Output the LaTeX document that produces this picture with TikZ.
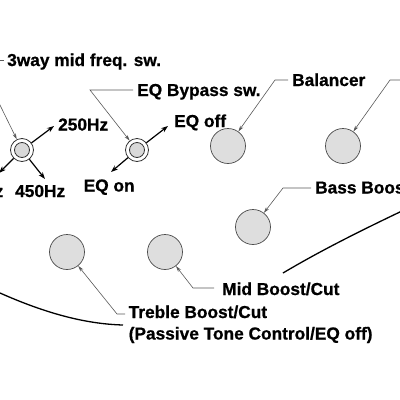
\documentclass[tikz,border=0pt]{standalone}
\usepackage{fontspec}
\setmainfont{Liberation Sans}[BoldFeatures={FakeBold=0.8}]
\usetikzlibrary{arrows.meta}
\begin{document}
\begin{tikzpicture}[x=1pt,y=-1pt,
  lbl/.style={font=\fontsize{17.3}{21.6}\selectfont\bfseries, inner sep=0pt, anchor=base west, text=black},
  knob/.style={circle, draw=black!70, fill=black!13, line width=0.7pt, minimum size=35pt, inner sep=0pt},
  swouter/.style={circle, draw=black!80, line width=0.8pt, minimum size=23pt, inner sep=0pt, fill=white},
  swinner/.style={circle, draw=black!80, fill=black!15, line width=0.8pt, minimum size=15pt, inner sep=0pt},
  lead/.style={draw=black!65, line width=0.6pt, -{Stealth[length=6pt,width=3.5pt]}},
  plainlead/.style={draw=black!65, line width=0.6pt},
  swarrow/.style={line width=1.2pt, -{Stealth[length=7pt,width=5pt]}},
  body/.style={line width=1.3pt}]
\useasboundingbox (0,0) rectangle (400,400);
\clip (0,0) rectangle (400,400);

% body outline
\draw[body] (0,293) .. controls (45,313) and (85,324) .. (123,325);
\draw[body] (283,273) .. controls (320,251) and (360,231) .. (402,211);

% knobs
\node[knob] (bal) at (228,146) {};
\node[knob] (kr) at (343,146) {};
\node[knob] (bass) at (253,227) {};
\node[knob] (treb) at (67,252) {};
\node[knob] (mid) at (165,252) {};

% switches
\node[swouter] (sw1) at (22,150) {};
\node[swinner] (sw1i) at (22,150) {};
\node[swouter] (sw2) at (137,150) {};
\node[swinner] (sw2i) at (137,150) {};

% switch arrows
\coordinate (a250) at (54,126);
\coordinate (a450) at (45,179);
\coordinate (aleft) at (-1,173);
\coordinate (aoff) at (168,126);
\coordinate (aon) at (111,172);
\draw[swarrow] (sw1) -- (a250);
\draw[swarrow] (sw1) -- (a450);
\draw[swarrow] (sw1) -- (aleft);
\draw[swarrow] (sw2) -- (aoff);
\draw[swarrow] (sw2) -- (aon);

% labels
\node[lbl] (t3way) at (7,66) {3way mid freq. sw.};
\node[lbl] (teqb) at (137,96) {EQ Bypass sw.};
\node[lbl] (tbal) at (292,86) {Balancer};
\node[lbl] (t250) at (58,130.5) {250Hz};
\node[lbl] (t450) at (15,197) {450Hz};
\node[lbl, anchor=base east] (thz) at (3.5,197) {Hz};
\node[lbl] (toff) at (174,127) {EQ off};
\node[lbl] (ton) at (83.5,191.5) {EQ on};
\node[lbl] (tbass) at (315,193.5) {Bass Boost};
\node[lbl] (tmid) at (222,295) {Mid Boost/Cut};
\node[lbl] (ttreb) at (128.5,318) {Treble Boost/Cut};
\node[lbl] (ttreb2) at (128.5,339.5) {(Passive Tone Control/EQ off)};

% leaders
\coordinate (l0a) at (-1,60);
\coordinate (l0b) at (4,60);
\draw[plainlead] (l0a) -- (l0b);

\coordinate (l1) at (-1,103);
\draw[lead] (l1) -- (sw1);

\coordinate (l2a) at (133,90);
\coordinate (l2b) at (90,90);
\draw[lead] (l2a) -- (l2b) -- (sw2);

\coordinate (l3a) at (288,80);
\coordinate (l3b) at (275,80);
\draw[lead] (l3a) -- (l3b) -- (bal);

\coordinate (l4a) at (402,80);
\coordinate (l4b) at (390,80);
\draw[lead] (l4a) -- (l4b) -- (kr);

\coordinate (l5a) at (311,188);
\coordinate (l5b) at (283,188);
\draw[lead] (l5a) -- (l5b) -- (bass);

\coordinate (l6a) at (214,288);
\coordinate (l6b) at (193,288);
\draw[lead] (l6a) -- (l6b) -- (mid);

\coordinate (l7a) at (125,314);
\coordinate (l7b) at (117,314);
\draw[lead] (l7a) -- (l7b) -- (treb);
\end{tikzpicture}
\end{document}
